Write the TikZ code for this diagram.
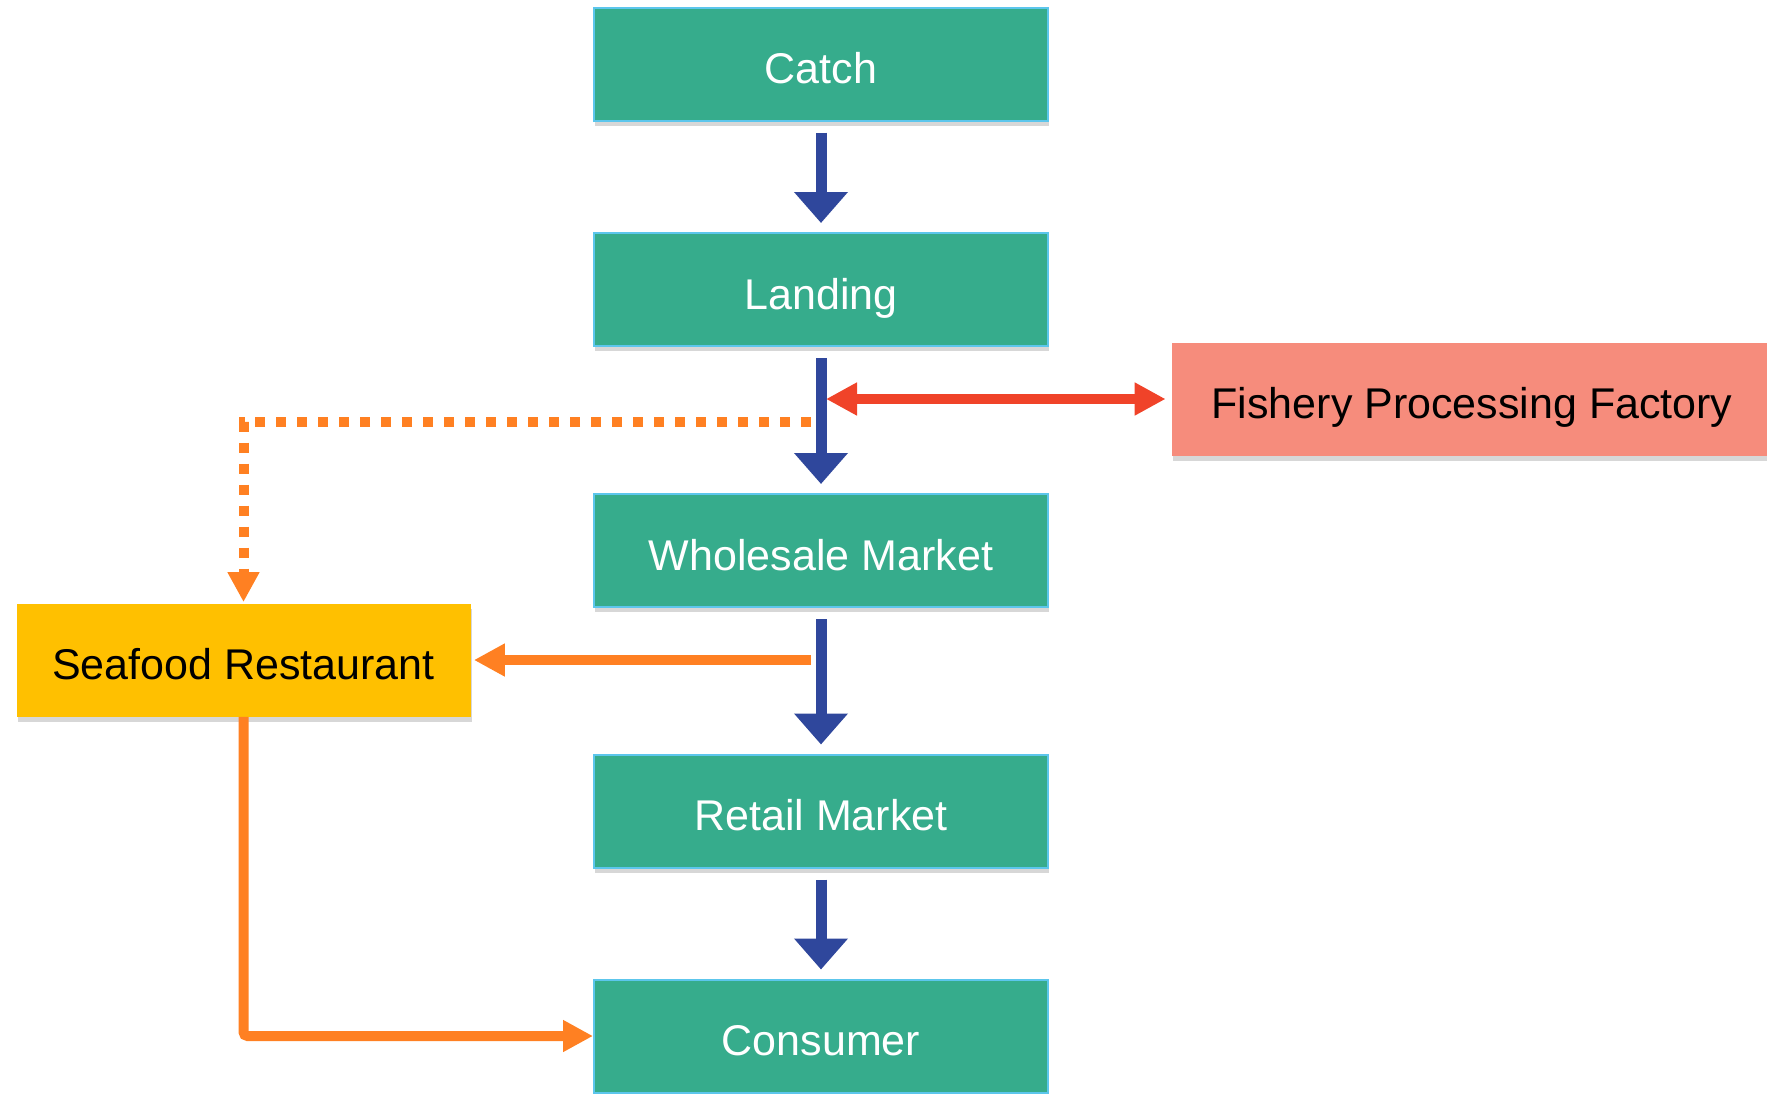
\documentclass[tikz,border=0pt]{standalone}
\usepackage{fontspec}
\setmainfont{Liberation Sans}
\usetikzlibrary{arrows.meta,shadows}
\definecolor{boxgreen}{HTML}{36AC8C}
\definecolor{edgeblue}{HTML}{5CC6EC}
\definecolor{flowblue}{HTML}{2F479C}
\definecolor{sidered}{HTML}{F04329}
\definecolor{salmon}{HTML}{F68C7C}
\definecolor{gold}{HTML}{FFC000}
\definecolor{tangerine}{HTML}{FF8022}

\begin{document}
\begin{tikzpicture}[x=0.5pt,y=-0.5pt,>=Stealth]
\tikzstyle{b}=[minimum width=227pt,minimum height=56.5pt,align=center,text height=19.5pt,text depth=0pt,font=\fontsize{21.5}{25}\selectfont,drop shadow={shadow xshift=0.5pt,shadow yshift=-2.5pt,fill=gray!70,opacity=0.45}]
\tikzstyle{g}=[b,draw=edgeblue,line width=1pt,fill=boxgreen,text=white]
\tikzstyle{flow}=[draw=flowblue,line width=5.5pt,-{Triangle[width=26pt,length=15.5pt]},shorten <=5.5pt,shorten >=4.5pt]
\tikzstyle{side}=[draw=tangerine,line width=5pt]
\useasboundingbox (0,0) rectangle (1767,1093);
\node[g] (catch) at (821,64) {Catch};
\node[g] (land) at (821,289.5) {Landing};
\node[g] (whole) at (821,550.5) {Wholesale Market};
\node[g] (retail) at (821,811) {Retail Market};
\node[g] (cons) at (821,1036) {Consumer};
\node[b,fill=gold] (rest) at (243.5,660) {Seafood Restaurant};
\node[b,fill=salmon,minimum width=300pt] (fact) at (1472,399) {Fishery Processing Factory};
\coordinate (j1) at (826,399);
\coordinate (j2) at (811,422);
\coordinate (j3) at (811,660);
% main chain
\draw[flow] (catch) -- (land);
\draw[flow] (land) -- (whole);
\draw[flow] (whole) -- (retail);
\draw[flow] (retail) -- (cons);
% side routes
\draw[draw=sidered,line width=5pt,{Triangle[width=15.5pt,length=15.5pt]}-{Triangle[width=15.5pt,length=15.5pt]},shorten >=3pt] (j1) -- (fact.west);
\draw[side,dash pattern=on 5pt off 5.5pt,-{Triangle[width=15pt,length=15pt]},shorten >=0.5pt] (j2) -| (rest.north);
\draw[side,-{Triangle[width=15.5pt,length=15.5pt]},shorten >=1.5pt] (j3) -- (rest.east);
\draw[side,rounded corners=2pt,-{Triangle[width=15pt,length=15pt]}] (rest.south) |- (cons.west);
\end{tikzpicture}
\end{document}
